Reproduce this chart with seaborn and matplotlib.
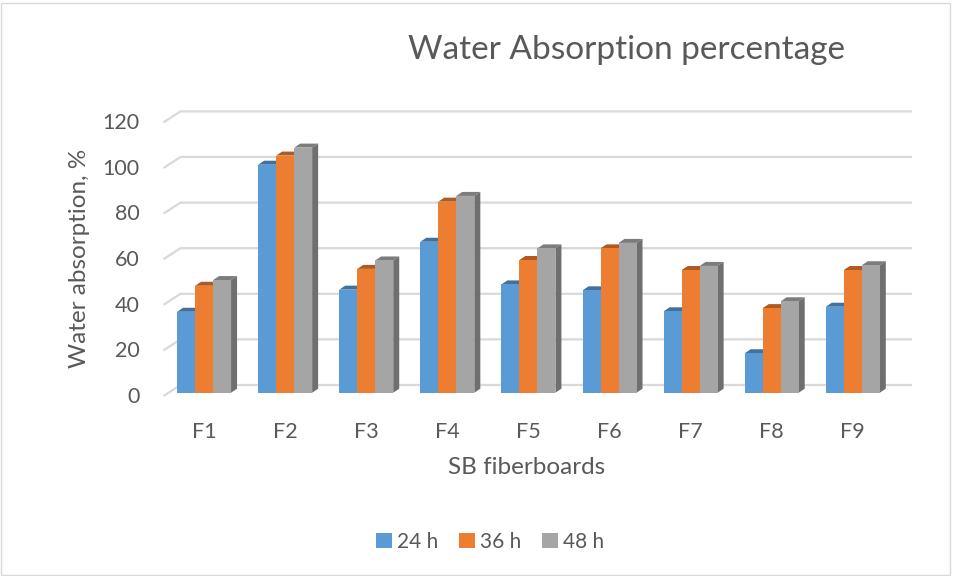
import numpy as np
import pandas as pd
import matplotlib
matplotlib.use("Agg")
import matplotlib.pyplot as plt
import matplotlib.transforms as mtransforms
from matplotlib.patches import Polygon, Rectangle
import seaborn as sns

categories = ["F1", "F2", "F3", "F4", "F5", "F6", "F7", "F8", "F9"]
series_names = ["24 h", "36 h", "48 h"]
vals_24h = [35.5, 100, 45.2, 66.2, 47.5, 44.9, 35.7, 17.3, 37.7]
vals_36h = [46.9, 104, 54.3, 83.8, 58.2, 63.3, 53.8, 37.1, 53.8]
vals_48h = [49.4, 107.5, 58.0, 86.3, 63.3, 65.7, 55.6, 40.1, 55.9]
y_ticks = [0, 20, 40, 60, 80, 100, 120]

colors = ["#5B9BD5", "#ED7D31", "#A5A5A5"]
top_colors = ["#41719C", "#AE5A21", "#7C7C7C"]
side_colors = ["#3E6C96", "#A9561F", "#6F6F6F"]
text_color = "#595959"

df = pd.DataFrame({
    "cat": categories * 3,
    "series": sum([[s] * len(categories) for s in series_names], []),
    "value": vals_24h + vals_36h + vals_48h,
})

sns.set_theme(style="white")
plt.rcParams["font.family"] = ["Lato", "DejaVu Sans"]

fig = plt.figure(figsize=(9.54, 5.76), dpi=100)
W, H = 954, 576
ax_left, ax_right = 163.5, 912
ax_bottom_px, ax_top_px = 392.7, 392.7 - 125 * 2.28
ax = fig.add_axes([ax_left / W, 1 - ax_bottom_px / H,
                   (ax_right - ax_left) / W, (ax_bottom_px - ax_top_px) / H])

sns.barplot(data=df, x="cat", y="value", hue="series", palette=colors,
            width=0.666, ax=ax, saturation=1, legend=False, zorder=3,
            linewidth=0)

ax.set_xlim(-0.5, 8.73)
ax.set_ylim(0, 125)

# pixel scale helpers
px_x = (8.73 + 0.5) / (ax_right - ax_left)
px_y = 125 / (ax_bottom_px - ax_top_px)
dx, dy = 6 * px_x, 4 * px_y

# 3D-like faces built from the library's bars
n = len(categories)
for i, bar in enumerate(ax.patches[:3 * n]):
    s = i // n
    x, w, h = bar.get_x(), bar.get_width(), bar.get_height()
    top = Polygon([(x, h), (x + w, h), (x + w + dx, h + dy), (x + dx, h + dy)],
                  closed=True, facecolor=top_colors[s], edgecolor="none", zorder=2.5)
    side = Polygon([(x + w, 0), (x + w + dx, dy), (x + w + dx, h + dy), (x + w, h)],
                   closed=True, facecolor=side_colors[s], edgecolor="none", zorder=2.5)
    ax.add_patch(top)
    ax.add_patch(side)

# back-wall gridlines with perspective
gdx = 17 * px_x
gdy_front = -3.3 * px_y
gdy_back = 7.7 * px_y
x0 = -0.5
for v in y_ticks:
    ax.plot([x0, x0 + gdx, 8.73], [v + gdy_front, v + gdy_back, v + gdy_back],
            color="#D9D9D9", lw=1.6, zorder=1, clip_on=False, solid_capstyle="butt")

for sp in ax.spines.values():
    sp.set_visible(False)

ax.set_yticks(y_ticks)
ax.set_yticklabels([str(t) for t in y_ticks])
ax.tick_params(axis="y", length=0, pad=17, labelsize=15.5, labelcolor=text_color)
ax.tick_params(axis="x", length=0, pad=21, labelsize=15.5, labelcolor=text_color)
shift = mtransforms.ScaledTranslation(0, -4 / 100, fig.dpi_scale_trans)
for lbl in ax.get_yticklabels():
    lbl.set_va("center")
    lbl.set_transform(lbl.get_transform() + shift)
ax.set_xlabel("")
ax.set_ylabel("")

fig.text(80 / W, 1 - 258 / H, "Water absorption, %", rotation=90,
         ha="center", va="center", fontsize=17.5, color=text_color)
fig.text(527 / W, 1 - 467 / H, "SB fiberboards", ha="center", va="center",
         fontsize=17.5, color=text_color)
fig.text(627 / W, 1 - 50 / H, "Water Absorption percentage", ha="center",
         va="center", fontsize=24, color=text_color)

# legend
handles = [Rectangle((0, 0), 1, 1, facecolor=c, edgecolor="none") for c in colors]
fig.legend(handles, series_names, loc="center", bbox_to_anchor=(490 / W, 1 - 542 / H),
           ncol=3, frameon=False, fontsize=15, labelcolor=text_color,
           handlelength=0.75, handleheight=0.75, handletextpad=0.25, columnspacing=1.0)

fig.patches.append(Rectangle((0.5 / W, 1.5 / H), (W - 4) / W, (H - 4) / H,
                             transform=fig.transFigure, fill=False,
                             edgecolor="#D9D9D9", lw=1))

fig.savefig("out.png", dpi=100)
